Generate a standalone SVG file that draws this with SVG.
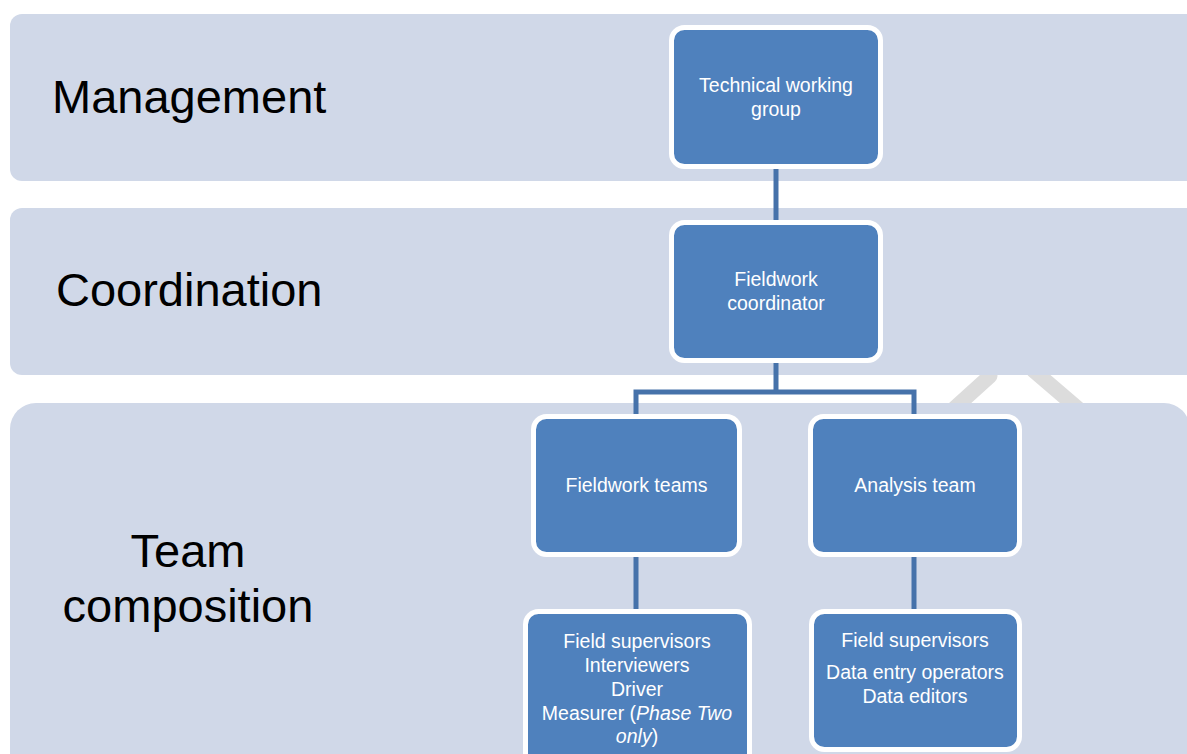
<svg xmlns="http://www.w3.org/2000/svg" width="1187" height="754" viewBox="0 0 1187 754">
  <style>
    .band { fill: #D0D8E8; }
    .band-label { font-family: "Liberation Sans", Arial, sans-serif; font-size: 47px; fill: #000000; }
    .box { fill: #4F81BD; stroke: #FFFFFF; stroke-width: 5; }
    .box-text { font-family: "Liberation Sans", Arial, sans-serif; font-size: 19.5px; fill: #FFFFFF; text-anchor: middle; }
    .link { fill: none; stroke: #4672AA; stroke-width: 5; }
    .mark { stroke: #DCDCDC; stroke-width: 15; stroke-linecap: round; }
  </style>

  <rect width="1187" height="754" fill="#FFFFFF"/>

  <!-- faint background watermark strokes -->
  <g id="watermark">
    <line class="mark" x1="948" y1="414" x2="990" y2="376"/>
    <line class="mark" x1="1033" y1="370" x2="1082" y2="412"/>
  </g>

  <!-- horizontal level bands -->
  <g id="band-management">
    <rect class="band" x="10" y="14" width="1200" height="167" rx="12"/>
    <text class="band-label" x="52" y="113">Management</text>
  </g>
  <g id="band-coordination">
    <rect class="band" x="10" y="208" width="1200" height="167" rx="12"/>
    <text class="band-label" x="56" y="306">Coordination</text>
  </g>
  <g id="band-team">
    <rect class="band" x="10" y="403" width="1180" height="380" rx="26"/>
    <text class="band-label" x="188" y="567" text-anchor="middle">Team</text>
    <text class="band-label" x="188" y="622" text-anchor="middle">composition</text>
  </g>

  <!-- connectors -->
  <g id="connectors">
    <line class="link" x1="776" y1="166" x2="776" y2="222"/>
    <path class="link" d="M776 360 V392 M636 416 V392 H914 V416"/>
    <line class="link" x1="636" y1="554" x2="636" y2="612"/>
    <line class="link" x1="914" y1="554" x2="914" y2="612"/>
  </g>

  <!-- nodes -->
  <g id="node-technical-working-group">
    <rect class="box" x="671.5" y="27.5" width="209" height="139" rx="13"/>
    <text class="box-text" x="776" y="92">Technical working</text>
    <text class="box-text" x="776" y="116">group</text>
  </g>
  <g id="node-fieldwork-coordinator">
    <rect class="box" x="671.5" y="222.5" width="209" height="138" rx="13"/>
    <text class="box-text" x="776" y="286">Fieldwork</text>
    <text class="box-text" x="776" y="310">coordinator</text>
  </g>
  <g id="node-fieldwork-teams">
    <rect class="box" x="533.5" y="416.5" width="206" height="138" rx="13"/>
    <text class="box-text" x="636.5" y="492">Fieldwork teams</text>
  </g>
  <g id="node-analysis-team">
    <rect class="box" x="810.5" y="416.5" width="209" height="138" rx="13"/>
    <text class="box-text" x="915" y="492">Analysis team</text>
  </g>
  <g id="node-fieldwork-members">
    <rect class="box" x="525.5" y="611.5" width="224" height="170" rx="13"/>
    <text class="box-text" x="637" y="648">Field supervisors</text>
    <text class="box-text" x="637" y="672">Interviewers</text>
    <text class="box-text" x="637" y="696">Driver</text>
    <text class="box-text" x="637" y="720">Measurer (<tspan font-style="italic">Phase Two</tspan></text>
    <text class="box-text" x="637" y="743"><tspan font-style="italic">only</tspan>)</text>
  </g>
  <g id="node-analysis-members">
    <rect class="box" x="811.5" y="611.5" width="208" height="138" rx="13"/>
    <text class="box-text" x="915" y="647">Field supervisors</text>
    <text class="box-text" x="915" y="679">Data entry operators</text>
    <text class="box-text" x="915" y="703">Data editors</text>
  </g>
</svg>
